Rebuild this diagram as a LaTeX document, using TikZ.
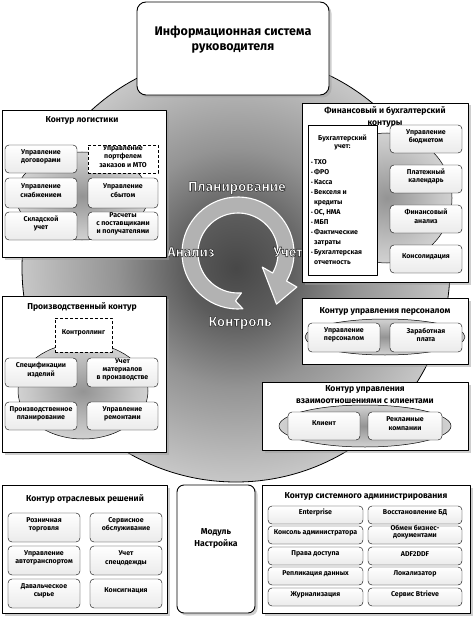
\documentclass[tikz,border=0pt]{standalone}
\usepackage{fontspec}
\setmainfont{Fira Sans}
\usetikzlibrary{shapes,positioning,fit,shadows,calc}
\colorlet{lcring}{black!30}
\colorlet{lcshade}{black!38}
\pgfdeclareradialshading{bigglow}{\pgfpoint{0bp}{0bp}}{%
  color(0bp)=(black!72); color(6bp)=(black!64); color(14bp)=(black!42);
  color(25bp)=(black!22); color(38bp)=(black!6); color(46bp)=(white); color(50bp)=(white)}
\pgfdeclareradialshading{glow}{\pgfpoint{0bp}{0bp}}{%
  color(0bp)=(black!42); color(20bp)=(black!22); color(40bp)=(black!6); color(50bp)=(white)}
\newcommand\itmfont{\fontsize{7}{8.2}\selectfont\bfseries}
\newcommand\ttlfont{\fontsize{8.6}{12}\selectfont\bfseries}
\newcommand\hollow[1]{{\color{white}\special{pdf:literal direct 2 Tr 0.6 w 0.2 G}#1\special{pdf:literal direct 0 Tr 0.4 w 0 G}}}

\begin{document}
\begin{tikzpicture}[x=1pt, y=-1pt, line join=round]
% -------------------------------------------------
% Box styles
\tikzset{
  panel/.style={draw, line width=0.9pt, fill=white, inner sep=0pt,
    drop shadow={shadow xshift=2.5pt, shadow yshift=-2.5pt, fill=lcshade}},
  rpanel/.style={panel, rounded corners=7pt},
  itm/.style={draw, rounded corners=4pt, top color=white, bottom color=black!8,
    inner sep=0pt, align=center, font=\itmfont},
  dsh/.style={draw, densely dashed, fill=white, inner sep=0pt, align=center, font=\itmfont},
  ttl/.style={font=\ttlfont, align=center, inner sep=0pt},
  cyc/.style={font=\fontsize{14}{14}\selectfont\bfseries, inner sep=0pt},
  glowline/.style={draw, line width=0.5pt, shading=glow}
}
\useasboundingbox (0,0) rectangle (474,620);

% -------------------------------------------------
% Background disc and the management cycle
\shadedraw [shading=bigglow, line width=0.8pt] (236,268) circle [radius=214];

\coordinate (cy) at (238,253);
\path [fill=lcring, draw=white, line width=1.1pt]
  ($(cy)+(85:56)$) arc [start angle=85, end angle=390, radius=56]
  -- ($(cy)+(30:68)$) -- ($(cy)+(53:64)$) -- ($(cy)+(30:28)$) -- ($(cy)+(30:40)$)
  arc [start angle=390, end angle=85, radius=40]
  -- ($(cy)+(93:48)$) -- cycle;

\node [cyc] (plan) at (237,188) {\hollow{Планирование}};
\node [cyc] (anal) at (191,252) {\hollow{Анализ}};
\node [cyc] (acct) at (288,252) {\hollow{Учет}};
\node [cyc] (ctrl) at (240,323) {\hollow{Контроль}};

% -------------------------------------------------
% Top box
\node [rpanel, rounded corners=9pt, fit={(137,2) (329,95)}] (isr) {};
\node [font=\fontsize{12.5}{15}\selectfont\bfseries, align=center] (isrt) at (233,40)
  {Информационная система\\руководителя};

% -------------------------------------------------
% Logistics
\node [panel, fit={(2,110) (166,257)}] (lg) {};
\node [ttl] (lgt) at (82,120) {Контур логистики};
\shade [glowline] (82,196) ellipse [x radius=66, y radius=44];
\node [itm, fit={(5,145) (77,173)}] (lg1) {Управление\\договорами};
\node [dsh, fit={(88,145) (158,173)}] (lg2) {Управление\\портфелем\\заказов и МТО};
\node [itm, fit={(5,178) (77,208)}] (lg3) {Управление\\снабжением};
\node [itm, fit={(88,178) (158,208)}] (lg4) {Управление\\сбытом};
\node [itm, fit={(5,212) (77,240)}] (lg5) {Складской\\учет};
\node [itm, fit={(88,212) (158,240)}] (lg6) {Расчеты\\с поставщиками\\и получателями};

% -------------------------------------------------
% Finance and accounting
\node [panel, fit={(302,103) (468,282)}] (fin) {};
\shade [glowline] (387,198) circle [radius=65];
\node [ttl] (fint) at (385,117) {Финансовый и бухгалтерский\\контуры};
\node [draw, fill=white, inner sep=0pt, fit={(308,125) (377,275)}] (buh) {};
\node [font=\itmfont, align=center, inner sep=0pt, below=10pt of buh.north] (buht)
  {Бухгалтерский\\учет:};
\node [font=\fontsize{7}{10}\selectfont\bfseries, anchor=north west, inner sep=0pt]
  (buhl) at (311,157) {%
  \begin{tabular}{@{}l@{\,}l@{}}
  {\tiny•} & ТХО\\
  {\tiny•} & ФРО\\
  {\tiny•} & Касса\\
  {\tiny•} & Векселя и\\
           & кредиты\\
  {\tiny•} & ОС, НМА\\
  {\tiny•} & МБП\\
  {\tiny•} & Фактические\\
           & затраты\\
  {\tiny•} & Бухгалтерская\\
           & отчетность
  \end{tabular}};
\node [itm, fit={(390,125) (462,153)}] (fin1) {Управление\\бюджетом};
\node [itm, fit={(390,165) (462,193)}] (fin2) {Платежный\\календарь};
\node [itm, fit={(390,205) (462,233)}] (fin3) {Финансовый\\анализ};
\node [itm, fit={(390,245) (462,273)}] (fin4) {Консолидация};

% -------------------------------------------------
% Production
\node [panel, fit={(2,296) (166,452)}] (prd) {};
\node [ttl] (prdt) at (82,307) {Производственный контур};
\shade [glowline] (83,391) ellipse [x radius=65, y radius=48];
\node [dsh, fit={(55,318) (112,352)}] (prd0) {Контроллинг};
\node [itm, fit={(5,358) (77,387)}] (prd1) {Спецификации\\изделий};
\node [itm, fit={(87,358) (158,387)}] (prd2) {Учет\\материалов\\в производстве};
\node [itm, fit={(5,402) (77,430)}] (prd3) {Производственное\\планирование};
\node [itm, fit={(87,402) (158,430)}] (prd4) {Управление\\ремонтами};

% -------------------------------------------------
% Personnel
\node [panel, fit={(302,298) (468,364)}] (per) {};
\node [ttl] (pert) at (385,311) {Контур управления персоналом};
\shade [glowline] (385,337) ellipse [x radius=80, y radius=18];
\node [itm, fit={(308,323) (380,352)}] (per1) {Управление\\персоналом};
\node [itm, fit={(390,323) (462,352)}] (per2) {Заработная\\плата};

% -------------------------------------------------
% Clients
\node [panel, fit={(262,382) (468,450)}] (crm) {};
\node [ttl] (crmt) at (365,395) {Контур управления\\взаимоотношениями с клиентами};
\shade [glowline] (365,426) ellipse [x radius=86, y radius=21];
\node [itm, fit={(288,412) (360,440)}] (crm1) {Клиент};
\node [itm, fit={(368,412) (442,440)}] (crm2) {Рекламные\\компании};

% -------------------------------------------------
% Branch solutions
\node [panel, fit={(2,485) (167,613)}] (otr) {};
\node [ttl] (otrt) at (85,499) {Контур отраслевых решений};
\node [itm, fit={(8,513) (80,542)}] (otr1) {Розничная\\торговля};
\node [itm, fit={(90,513) (162,542)}] (otr2) {Сервисное\\обслуживание};
\node [itm, fit={(8,546) (80,575)}] (otr3) {Управление\\автотранспортом};
\node [itm, fit={(90,546) (162,575)}] (otr4) {Учет\\спецодежды};
\node [itm, fit={(8,579) (80,608)}] (otr5) {Давальческое\\сырье};
\node [itm, fit={(90,579) (162,608)}] (otr6) {Консигнация};

% -------------------------------------------------
% Settings module
\node [rpanel, fit={(177,485) (255,613)}] (nst) {};
\node [ttl] (nstt) at (216,538) {Модуль\\Настройка};

% -------------------------------------------------
% System administration
\node [panel, fit={(262,485) (470,613)}] (sys) {};
\node [ttl] (syst) at (366,496) {Контур системного администрирования};
\node [itm, fit={(268,506) (363,524)}] (sys1) {Enterprise};
\node [itm, fit={(368,506) (462,524)}] (sys2) {Восстановление БД};
\node [itm, fit={(268,526) (363,544)}] (sys3) {Консоль администратора};
\node [itm, fit={(368,526) (462,544)}, font=\fontsize{7}{7.2}\selectfont\bfseries] (sys4)
  {Обмен бизнес-\\документами};
\node [itm, fit={(268,547) (363,565)}] (sys5) {Права доступа};
\node [itm, fit={(368,547) (462,565)}] (sys6) {ADF2DDF};
\node [itm, fit={(268,567) (363,585)}] (sys7) {Репликация данных};
\node [itm, fit={(368,567) (462,585)}] (sys8) {Локализатор};
\node [itm, fit={(268,588) (363,606)}] (sys9) {Журнализация};
\node [itm, fit={(368,588) (462,606)}] (sys10) {Сервис Btrieve};
\end{tikzpicture}
\end{document}
